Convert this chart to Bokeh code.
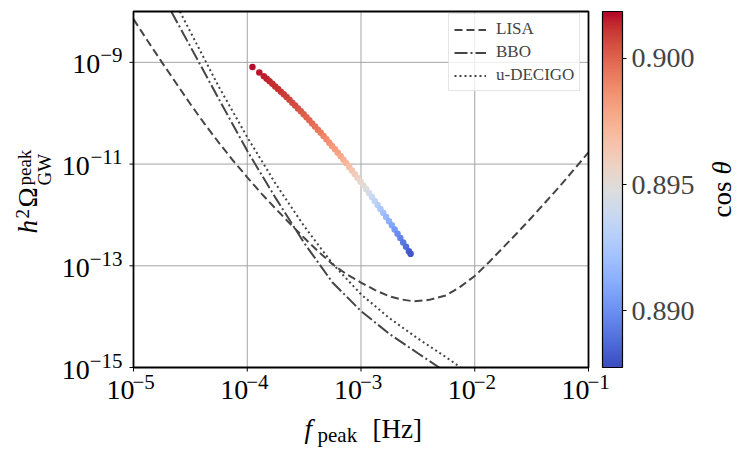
import numpy as np
from bokeh.plotting import figure
from bokeh.models import (ColumnDataSource, LinearColorMapper, ColorBar, FixedTicker,
                          PrintfTickFormatter, Range1d, LabelSet, LogScale, Grid)
from bokeh.core.properties import value
from bokeh.embed import file_html
from bokeh.resources import INLINE

# ---------------- data (log10 values) ----------------
lisa_logf = [-5.0, -4.875, -4.75, -4.625, -4.5, -4.375, -4.25, -4.125, -4.0, -3.875, -3.75,
             -3.625, -3.5, -3.375, -3.25, -3.125, -3.0, -2.875, -2.75, -2.65, -2.535, -2.4,
             -2.25, -2.125, -2.0, -1.875, -1.75, -1.625, -1.5, -1.375, -1.25, -1.125, -1.0]
lisa_logo = [-8.15, -8.58, -9.0, -9.41, -9.82, -10.21, -10.58, -10.93, -11.26, -11.58, -11.88,
             -12.17, -12.45, -12.72, -12.97, -13.17, -13.33, -13.48, -13.60, -13.66, -13.70, -13.67,
             -13.58, -13.41, -13.20, -12.93, -12.64, -12.35, -12.05, -11.74, -11.43, -11.10, -10.77]

bbo_logf = [-4.668, -4.5, -4.25, -4.0, -3.75, -3.5, -3.25, -3.0, -2.75, -2.5, -2.313]
bbo_logo = [-8.0, -8.69, -9.72, -10.74, -11.67, -12.55, -13.33, -13.89, -14.34, -14.72, -15.0]

decigo_logf = [-4.592, -4.5, -4.25, -4.0, -3.75, -3.5, -3.25, -3.0, -2.75, -2.5, -2.25, -2.125]
decigo_logo = [-8.0, -8.40, -9.48, -10.47, -11.39, -12.22, -12.96, -13.56, -14.03, -14.43, -14.80, -15.0]

pt_logf = [-3.954, -3.894, -3.854, -3.829, -3.804, -3.779, -3.754, -3.729, -3.704, -3.679,
           -3.654, -3.629, -3.604, -3.579, -3.554, -3.529, -3.504, -3.479, -3.454, -3.429,
           -3.404, -3.379, -3.354, -3.329, -3.304, -3.279, -3.254, -3.229, -3.204, -3.179,
           -3.154, -3.129, -3.104, -3.079, -3.054, -3.029, -3.004, -2.979, -2.954, -2.929,
           -2.904, -2.879, -2.854, -2.829, -2.804, -2.779, -2.754, -2.729, -2.704, -2.679,
           -2.654, -2.629, -2.604, -2.579, -2.564]
pt_logo = [-9.090, -9.200, -9.275, -9.324, -9.373, -9.422, -9.473, -9.524, -9.576, -9.629,
           -9.683, -9.737, -9.792, -9.848, -9.905, -9.962, -10.021, -10.080, -10.139, -10.200,
           -10.261, -10.323, -10.386, -10.450, -10.514, -10.579, -10.645, -10.711, -10.779, -10.847,
           -10.916, -10.986, -11.056, -11.127, -11.199, -11.272, -11.346, -11.420, -11.495, -11.571,
           -11.647, -11.725, -11.803, -11.882, -11.962, -12.042, -12.123, -12.205, -12.288, -12.371,
           -12.456, -12.541, -12.626, -12.713, -12.765]
pt_cos = [0.9017, 0.9016, 0.9015, 0.9015, 0.9014, 0.9013, 0.9013, 0.9012, 0.9011, 0.9010,
          0.9009, 0.9008, 0.9007, 0.9006, 0.9005, 0.9003, 0.9002, 0.9000, 0.8999, 0.8998,
          0.8996, 0.8995, 0.8993, 0.8990, 0.8988, 0.8986, 0.8984, 0.8982, 0.8980, 0.8978,
          0.8975, 0.8972, 0.8968, 0.8965, 0.8961, 0.8958, 0.8954, 0.8951, 0.8947, 0.8943,
          0.8939, 0.8934, 0.8930, 0.8925, 0.8921, 0.8917, 0.8913, 0.8909, 0.8904, 0.8900,
          0.8896, 0.8892, 0.8888, 0.8884, 0.8881]

cos_low, cos_high = 0.88775, 0.90186
x_lim_exp = (-5, -1)
y_lim_exp = (-15, -8)
x_tick_exp = [-5, -4, -3, -2, -1]
y_tick_exp = [-15, -13, -11, -9]
x_grid_exp = [-4, -3, -2]
y_grid_exp = [-13, -11, -9]
cb_ticks = [0.890, 0.895, 0.900]

# coolwarm anchor colours (Moreland)
cw = [(59, 76, 192), (68, 90, 204), (77, 104, 215), (87, 117, 225), (98, 130, 234), (108, 142, 241),
      (119, 154, 247), (130, 165, 251), (141, 176, 254), (152, 185, 255), (163, 194, 255),
      (174, 201, 253), (184, 208, 249), (194, 213, 244), (204, 217, 238), (213, 219, 230),
      (221, 221, 221), (229, 216, 209), (236, 211, 197), (241, 204, 185), (245, 196, 173),
      (247, 187, 160), (247, 177, 148), (247, 166, 135), (244, 154, 123), (241, 141, 111),
      (236, 127, 99), (229, 112, 88), (222, 96, 77), (213, 80, 66), (203, 62, 56), (192, 40, 47),
      (180, 4, 38)]
cwa = np.array(cw, dtype=float)
tt = np.linspace(0, 1, len(cw))
palette = ["#%02x%02x%02x" % tuple(int(round(np.interp(t, tt, cwa[:, k]))) for k in range(3))
           for t in np.linspace(0, 1, 256)]

FONT = "Liberation Serif"
LC = "#454545"

# ---------------- layout (pixels) ----------------
W, H = 740, 450
BOX_L, BOX_R, BOX_T, BOX_B = 133, 588, 11, 367
PXX = (BOX_R - BOX_L) / (x_lim_exp[1] - x_lim_exp[0])
PXY = (BOX_B - BOX_T) / (y_lim_exp[1] - y_lim_exp[0])
xr = Range1d(10 ** (x_lim_exp[0] - BOX_L / PXX), 10 ** (x_lim_exp[0] + (W - BOX_L) / PXX))
yr = Range1d(10 ** (y_lim_exp[0] - (H - BOX_B) / PXY), 10 ** (y_lim_exp[0] + BOX_B / PXY))

p = figure(width=W, height=H, x_range=xr, y_range=yr,
           x_axis_type="log", y_axis_type="log",
           x_axis_location=None, y_axis_location=None,
           min_border=0, min_border_left=0, min_border_right=0, min_border_top=0, min_border_bottom=0,
           output_backend="svg", toolbar_location=None)
p.x_scale = LogScale()
p.y_scale = LogScale()
p.outline_line_color = None
p.background_fill_color = "white"
p.border_fill_color = "white"
for g in list(p.center):
    if isinstance(g, Grid):
        p.center.remove(g)

x0, x1 = 10.0 ** x_lim_exp[0], 10.0 ** x_lim_exp[1]
y0, y1 = 10.0 ** y_lim_exp[0], 10.0 ** y_lim_exp[1]

# grid
gx = [10.0 ** e for e in x_grid_exp]
gy = [10.0 ** e for e in y_grid_exp]
p.segment(x0=gx, x1=gx, y0=[y0] * len(gx), y1=[y1] * len(gx), line_color="#a4a4a4", line_width=1)
p.segment(x0=[x0] * len(gy), x1=[x1] * len(gy), y0=gy, y1=gy, line_color="#a4a4a4", line_width=1)

# curves
p.line(np.power(10.0, lisa_logf), np.power(10.0, lisa_logo), line_color=LC, line_width=2,
       line_dash="8 4", legend_label="LISA")
p.line(np.power(10.0, bbo_logf), np.power(10.0, bbo_logo), line_color=LC, line_width=2,
       line_dash="13 3 2 3", legend_label="BBO")
p.line(np.power(10.0, decigo_logf), np.power(10.0, decigo_logo), line_color=LC, line_width=2,
       line_dash="2 3", legend_label="u-DECIGO")

mapper = LinearColorMapper(palette=palette, low=cos_low, high=cos_high)
src = ColumnDataSource(dict(f=np.power(10.0, pt_logf), o=np.power(10.0, pt_logo), c=pt_cos))
p.scatter("f", "o", source=src, size=6.5, line_color=None,
          fill_color={"field": "c", "transform": mapper})

# axes box and ticks
p.quad(left=[x0], right=[x1], bottom=[y0], top=[y1], fill_color=None,
       line_color="black", line_width=1.8)
xt = [10.0 ** e for e in x_tick_exp]
yt = [10.0 ** e for e in y_tick_exp]
tick_len = 4
p.segment(x0=xt, x1=xt, y0=[y0] * len(xt), y1=[10 ** (y_lim_exp[0] - tick_len / PXY)] * len(xt),
          line_color="black", line_width=1)
p.segment(x0=[x0] * len(yt), x1=[10 ** (x_lim_exp[0] - tick_len / PXX)] * len(yt), y0=yt, y1=yt,
          line_color="black", line_width=1)

# legend
lg = p.legend[0]
lg.location = (448, H - 91)
lg.padding = 5
lg.spacing = 3
lg.glyph_width = 32
lg.glyph_height = 19
lg.label_height = 19
lg.label_standoff = 10
lg.label_text_font = FONT
lg.label_text_font_size = "17px"
lg.border_line_color = "#cccccc"
lg.border_line_width = 1
lg.background_fill_alpha = 0.8

# colour bar
cb = ColorBar(color_mapper=mapper, ticker=FixedTicker(ticks=cb_ticks),
              formatter=PrintfTickFormatter(format="%.3f"), width=20, height=BOX_B - BOX_T,
              padding=0, margin=0, label_standoff=5, location=(602, H - BOX_B),
              major_label_text_font=FONT, major_label_text_font_size="28px",
              major_tick_in=0, major_tick_out=4, major_tick_line_color="black",
              minor_tick_line_color=None,
              bar_line_color="black", bar_line_width=1.2,
              border_line_color=None, background_fill_alpha=0)
p.add_layout(cb)

# tick labels: "10" with raised exponent
def exps(es):
    return ["\u2212%d" % (-e) if e < 0 else "%d" % e for e in es]

xsrc = ColumnDataSource(dict(x=xt, base=["10"] * len(xt), ex=exps(x_tick_exp)))
p.add_layout(LabelSet(x="x", y=H - 398, x_units="data", y_units="screen", text="base", source=xsrc,
                      text_align="right", text_baseline="alphabetic", x_offset=1,
                      text_font=value(FONT), text_font_size="28px", text_color="black"))
p.add_layout(LabelSet(x="x", y=H - 388, x_units="data", y_units="screen", text="ex", source=xsrc,
                      text_align="left", text_baseline="alphabetic", x_offset=-1,
                      text_font=value(FONT), text_font_size="21px", text_color="black"))

yex = exps(y_tick_exp)
EXP_R = 122
yex_x = [EXP_R - 21 * (0.564 + 0.5 * (len(s) - 1)) for s in yex]
ybase_y = [10 ** (e - 11 / PXY) for e in y_tick_exp]
ysrc = ColumnDataSource(dict(y=yt, yb=ybase_y, base=["10"] * len(yt), ex=yex, xb=yex_x))
p.add_layout(LabelSet(x=EXP_R, y="y", x_units="screen", y_units="data", text="ex", source=ysrc,
                      text_align="right", text_baseline="alphabetic",
                      text_font=value(FONT), text_font_size="21px", text_color="black"))
p.add_layout(LabelSet(x="xb", y="yb", x_units="screen", y_units="data", text="base", source=ysrc,
                      text_align="right", text_baseline="alphabetic",
                      text_font=value(FONT), text_font_size="28px", text_color="black"))

def lab(text, x, y, size, style="normal", angle=0.0):
    # x, y: page pixels (from top-left), anchor at start of the text baseline
    s = ColumnDataSource(dict(x=[x], y=[H - y], t=[text]))
    p.add_layout(LabelSet(x="x", y="y", x_units="screen", y_units="screen", text="t", source=s,
                          angle=angle, text_align="left", text_baseline="alphabetic",
                          text_font=value(FONT), text_font_size=size,
                          text_font_style=style, text_color="black"))

# x axis label  f_peak [Hz]
lab("f", 304, 437, "27px", "italic")
lab("peak", 317, 441, "21px")
lab("[Hz]", 372, 437, "27px")

# y axis label  h^2 Omega^peak_GW (rotated, reading upwards)
r = np.pi / 2
lab("h", 36.5, 233, "27px", "italic", r)
lab("2", 28, 218, "19px", "normal", r)
lab("\u03a9", 36.5, 207, "27px", "normal", r)
lab("peak", 30, 185, "19px", "normal", r)
lab("GW", 50, 185, "19px", "normal", r)

# colour bar label  cos theta
lab("cos", 730, 217, "27px", "normal", r)
lab("\u03b8", 730, 174, "27px", "italic", r)

open("out.html", "w").write(file_html(p, INLINE))
